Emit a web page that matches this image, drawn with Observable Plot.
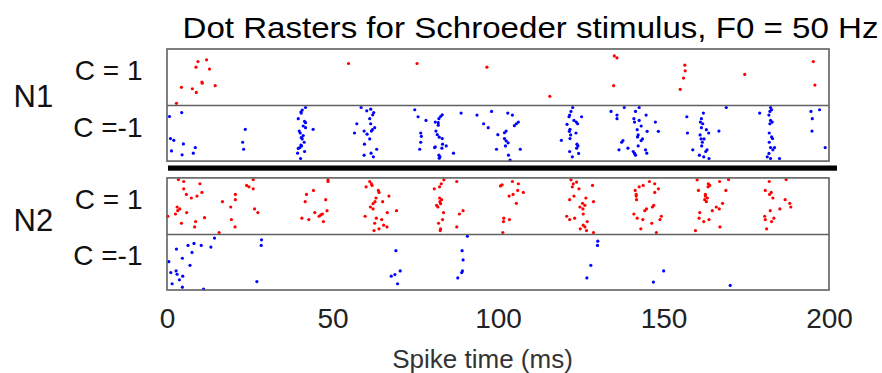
<!DOCTYPE html>
<html>
<head>
<meta charset="utf-8">
<script src="https://cdn.jsdelivr.net/npm/d3@7"></script>
<script src="https://cdn.jsdelivr.net/npm/@observablehq/plot@0.6"></script>
<style>
  html, body { margin: 0; padding: 0; background: #fff; }
</style>
</head>
<body>
<div id="chart"></div>
<script>
// ---------- data ----------
const titleText = "Dot Rasters for Schroeder stimulus, F0 = 50 Hz";
const xLabel = "Spike time (ms)";
const xTicks = [0, 50, 100, 150, 200];
const neurons = ["N1", "N2"];
const conditions = ["C = 1", "C =-1"];
const condColors = ["#ff0000", "#0000ff"];

// spikes as [time (ms), trial position within row (0 = top, 20 = bottom)]
const n1CPos = [
  [2.7,19.2],[4.2,13.5],[7.5,14.0],[8.7,15.3],[8.6,6.3],[9.2,4.3],[10.4,11.6],[10.5,12.0],
  [11.8,3.7],[12.7,7.0],[14.4,12.9],[54.7,5.0],[75.4,5.0],[96.5,6.3],
  [115.5,16.7],[135.0,2.3],[135.8,3.0],[134.8,12.9],[156.3,5.6],[156.4,7.6],[155.9,10.2],
  [154.9,14.2],[174.4,8.9],[195.1,4.3],[195.6,12.7]
];
const n1CNeg = [
  [0.6,3.9],[4.3,2.5],[0.9,11.8],[1.9,12.4],[4.8,13.7],[1.2,16.2],[4.4,17.6],[8.4,15.0],[7.8,17.0],
  [23.5,8.5],[22.7,13.1],[23.0,15.6],
  [41.7,0.7],[40.7,1.6],[40.3,2.3],[40.4,2.7],[39.5,4.7],[41.4,5.6],[41.7,6.1],[41.0,7.3],[41.7,7.9],
  [44.0,8.5],[39.8,9.1],[40.1,9.8],[41.0,10.7],[40.4,11.4],[40.7,11.9],[41.3,13.1],[40.3,14.1],
  [39.5,15.3],[40.0,15.0],[40.5,14.4],[41.4,16.4],[39.3,17.0],[40.2,18.9],
  [58.5,0.7],[60.2,1.9],[61.4,1.3],[62.3,2.5],[62.0,3.3],[61.1,4.7],[57.2,6.5],[61.4,6.5],[62.6,7.9],
  [61.9,8.6],[61.6,9.1],[59.4,9.1],[56.5,9.8],[60.3,10.2],[61.1,11.9],[59.5,13.8],[63.2,15.6],
  [61.5,17.0],[59.4,17.7],[62.2,18.3],
  [74.7,1.5],[75.7,4.0],[78.1,5.3],[83.0,3.3],[82.5,3.9],[82.0,4.7],[81.8,6.1],[80.9,5.9],[81.8,7.0],
  [81.1,9.1],[76.5,9.8],[76.7,11.0],[81.5,10.4],[82.1,11.3],[83.0,11.8],[76.5,13.1],[84.2,14.4],
  [83.1,13.8],[82.9,15.2],[80.9,14.7],[80.7,15.0],[76.2,15.6],[82.0,17.7],[82.3,18.3],[82.1,18.8],
  [86.4,17.0],[88.7,2.7],[93.5,3.4],[97.9,2.1],[95.5,6.5],[96.9,7.9],[99.8,10.4],[99.4,15.6],
  [102.8,2.7],[104.2,3.4],[106.0,5.9],[105.4,6.5],[104.8,7.2],[102.3,9.1],[101.8,9.7],[101.8,11.8],
  [102.3,12.6],[102.9,13.3],[102.1,14.4],[106.6,15.6],[103.0,17.7],[103.5,19.5],
  [122.4,0.7],[121.9,2.1],[121.5,3.4],[121.3,4.0],[125.1,4.0],[122.8,5.3],[123.5,5.9],[120.7,6.7],
  [123.9,6.5],[121.6,8.5],[121.4,9.2],[123.4,9.8],[121.8,10.5],[121.6,11.8],[119.0,12.4],[123.7,13.8],
  [124.0,14.4],[123.6,15.2],[121.5,16.4],[124.2,17.1],[122.3,18.3],
  [134.0,2.1],[135.8,3.4],[135.8,4.7],[138.0,0.7],[141.4,2.1],[142.5,0.7],[144.6,3.4],[140.9,4.7],
  [142.5,5.3],[147.4,5.9],[141.1,5.9],[143.1,7.3],[141.9,8.6],[144.9,9.2],[148.3,9.2],[142.2,10.5],
  [142.0,11.2],[143.5,11.9],[143.1,12.5],[137.6,12.5],[137.2,13.1],[142.2,14.4],[139.1,15.2],
  [136.4,15.8],[144.4,15.8],[140.7,16.4],[141.1,17.1],[141.4,17.7],[144.8,17.0],
  [156.9,4.0],[161.9,2.7],[161.3,4.7],[161.0,5.9],[161.7,6.5],[161.3,7.9],[162.8,8.6],[163.5,9.8],
  [166.6,9.1],[157.1,9.8],[160.9,10.5],[161.2,11.9],[162.1,11.9],[161.6,13.1],[161.4,14.4],
  [163.0,15.8],[162.6,16.4],[158.7,15.8],[160.7,17.7],[162.0,18.3],[163.6,18.9],[168.8,0.7],
  [178.9,2.7],[182.2,0.7],[182.5,1.5],[182.0,2.1],[181.7,3.4],[182.2,5.3],[182.7,5.9],[182.0,6.5],
  [181.8,9.8],[182.5,11.2],[182.8,11.8],[181.8,13.1],[182.2,15.0],[183.4,15.0],[182.9,15.8],
  [181.7,17.1],[181.2,18.3],[182.2,18.9],[184.9,18.9],
  [194.4,2.1],[197.0,1.5],[194.8,4.7],[194.7,9.1],[198.7,15.0]
];
const n2CPos = [
  [0.1,13.5],[2.4,12.7],[2.9,10.2],[3.1,11.5],[3.7,10.9],[3.3,0.4],[4.9,1.1],[4.9,3.7],[5.7,5.7],
  [5.8,12.2],[7.2,7.0],[8.9,6.3],[10.4,5.0],[9.8,1.9],[8.2,17.3],[8.5,15.4],[4.2,16.0],[11.2,14.0],
  [15.6,19.3],[16.6,8.3],[19.1,10.2],[19.3,14.7],[20.5,5.7],[20.5,7.6],[20.4,17.3],[23.9,2.5],
  [24.6,3.0],[25.9,0.4],[25.9,3.7],[26.3,10.9],[27.3,12.2],
  [40.6,14.2],[42.7,14.7],[41.6,8.3],[42.0,5.7],[44.1,4.3],[44.5,12.2],[45.8,13.5],[46.3,13.0],
  [46.8,12.7],[47.1,15.4],[47.8,7.6],[48.2,11.5],[48.5,0.5],[48.5,1.1],
  [61.1,1.1],[61.6,1.9],[61.8,2.5],[60.0,3.0],[63.7,4.3],[63.9,5.0],[66.9,6.3],[63.0,7.0],[62.7,8.3],
  [65.0,8.3],[62.1,9.0],[61.3,10.2],[62.1,10.9],[66.4,12.2],[69.2,11.5],[59.7,13.5],[63.1,14.2],
  [64.7,14.7],[62.6,16.0],[65.3,16.7],[66.3,17.3],[63.9,18.0],[62.4,18.6],
  [83.5,0.5],[82.7,1.9],[82.2,3.0],[80.6,3.7],[82.2,7.0],[82.8,7.6],[82.3,8.3],[82.5,9.0],[81.3,9.6],
  [81.7,10.2],[83.4,12.2],[83.1,14.7],[81.9,16.0],[82.5,18.0],[82.4,18.6],[87.4,1.1],[89.3,11.5],
  [88.2,12.7],[87.4,17.3],
  [100.6,2.7],[101.1,2.3],[104.2,1.1],[106.0,1.9],[105.8,4.3],[107.5,5.0],[104.4,5.7],[103.2,6.3],
  [105.4,8.9],[101.6,14.2],[101.5,15.4],[103.3,14.7],[101.3,19.3],
  [121.9,0.5],[122.6,1.9],[123.6,1.3],[122.3,3.0],[124.3,3.7],[128.4,2.5],[122.8,6.3],[121.5,7.6],
  [126.4,7.0],[128.7,8.3],[125.4,8.9],[126.1,9.6],[124.6,10.2],[125.5,10.9],[125.6,12.7],[120.6,13.5],
  [121.5,14.7],[123.0,14.2],[126.8,15.4],[125.6,16.7],[126.1,17.3],[124.7,18.0],[126.6,18.6],
  [128.7,19.3],
  [145.6,1.1],[147.2,1.9],[143.7,2.5],[142.5,3.0],[148.3,3.7],[141.3,4.3],[147.2,5.0],[141.6,5.7],
  [141.6,6.3],[141.7,7.6],[146.9,9.6],[146.5,10.2],[144.7,10.9],[144.2,11.5],[140.9,12.7],[141.9,14.2],
  [143.6,14.7],[149.2,13.5],[148.8,14.7],[146.3,16.0],[143.0,18.0],[147.7,19.3],
  [160.0,0.5],[163.4,1.9],[163.8,2.5],[163.3,3.0],[166.8,1.1],[169.5,0.4],[160.4,4.3],[168.7,4.3],
  [162.5,5.7],[162.5,6.3],[163.1,7.0],[162.8,8.3],[162.3,7.6],[167.7,8.9],[165.8,10.2],[166.7,10.9],
  [164.6,11.5],[160.8,12.2],[160.6,14.2],[163.6,14.7],[162.0,15.4],[166.9,17.3],[159.5,18.6],
  [181.8,1.1],[186.9,0.4],[180.6,4.3],[182.4,5.0],[181.9,5.7],[182.9,7.0],[186.6,7.6],[188.0,8.9],
  [188.3,10.2],[185.0,10.9],[182.1,11.5],[180.4,13.5],[183.2,14.2],[180.6,14.7],[182.5,15.4],
  [181.0,18.0]
];
const n2CNeg = [
  [0.4,9.7],[1.0,13.6],[1.4,17.6],[2.6,13.0],[2.9,14.2],[3.6,16.2],[4.5,18.8],[4.6,14.9],[2.7,5.2],
  [4.5,8.5],[6.2,3.9],[7.4,6.4],[8.0,3.2],[6.8,11.0],[10.2,3.9],[10.9,19.5],[13.1,4.5],[14.2,1.3],
  [28.4,1.9],[28.3,3.9],[27.0,16.8],
  [69.0,5.8],[67.6,14.9],[68.7,14.3],[70.3,13.0],[69.5,17.6],
  [90.6,0.6],[89.0,5.8],[89.3,9.1],[89.1,13.0],[88.9,13.6],[87.7,15.5],
  [130.0,2.4],[129.9,3.9],[127.9,11.0],[126.7,15.5],[149.9,13.0],[146.8,17.0],[170.0,18.2]
];

// ---------- layout (row units) ----------
const ROW = 20, GAP = 6;
const groups = [[n1CPos, n1CNeg], [n2CPos, n2CNeg]];
const rowTop = (ni, ci) => ni * (2 * ROW + GAP) + ci * ROW;
const neuronLabelPos = [17.1, 15.4]; // label position within each panel (row units)

const spikes = [];
groups.forEach((g, ni) => g.forEach((arr, ci) => arr.forEach(([t, tr]) =>
  spikes.push({t, y: rowTop(ni, ci) + tr, cond: ci}))));

const panels = neurons.map((n, ni) => ({name: n, y1: rowTop(ni, 0), y2: rowTop(ni, 1) + ROW,
  mid: rowTop(ni, 1), ly: rowTop(ni, 0) + neuronLabelPos[ni]}));
const condRows = [];
neurons.forEach((n, ni) => conditions.forEach((c, ci) =>
  condRows.push({label: c, y: rowTop(ni, ci) + ROW / 2})));
const gapRow = [{y1: rowTop(0, 1) + ROW, y2: rowTop(1, 0)}];
const x0 = xTicks[0], x1 = xTicks[xTicks.length - 1];

const chart = Plot.plot({
  width: 882,
  height: 373,
  marginLeft: 167,
  marginRight: 53,
  marginTop: 49,
  marginBottom: 83,
  style: {fontFamily: "'Liberation Sans', Arial, sans-serif", background: "#fff", color: "#222"},
  x: {domain: [x0, x1], axis: null},
  y: {domain: [0, 2 * (2 * ROW) + GAP], axis: null, range: [49, 290]},
  marks: [
    Plot.dot(spikes, {x: "t", y: "y", r: 1.6, fill: d => condColors[d.cond], stroke: null}),
    Plot.rect(panels, {x1: () => x0, x2: () => x1, y1: "y1", y2: "y2", fill: "none", stroke: "#606060", strokeWidth: 1.6}),
    Plot.ruleY(panels, {y: "mid", x1: () => x0, x2: () => x1, stroke: "#606060", strokeWidth: 1.6}),
    Plot.rect(gapRow, {x1: () => x0, x2: () => x1, y1: "y1", y2: "y2", fill: "#000",
      insetTop: 4.4, insetBottom: 7.2, insetLeft: 1, insetRight: -8}),
    Plot.text(condRows, {y: "y", text: "label", frameAnchor: "left", lineAnchor: "middle", dx: -25, dy: -6,
      textAnchor: "end", fontSize: 28, fill: "#111"}),
    Plot.text(panels, {y: "ly", text: "name", frameAnchor: "left", lineAnchor: "middle", dx: -154,
      textAnchor: "start", fontSize: 31, fill: "#111"}),
    Plot.axisX({ticks: xTicks, tickSize: 0, tickPadding: 18, fontSize: 28, label: null, fill: "#222"}),
    Plot.text([xLabel], {frameAnchor: "bottom", lineAnchor: "middle", dx: -16, dy: 68.7, fontSize: 26, fill: "#333"}),
    Plot.text([titleText], {frameAnchor: "top-right", lineAnchor: "middle", textAnchor: "end", dx: 49, dy: -21.6,
      fontSize: 30, fill: "#000"})
  ]
});
d3.select(chart).selectAll("text").filter(function() { return this.textContent === titleText; })
  .attr("textLength", 696).attr("lengthAdjust", "spacingAndGlyphs");
document.getElementById("chart").appendChild(chart);
</script>
</body>
</html>
